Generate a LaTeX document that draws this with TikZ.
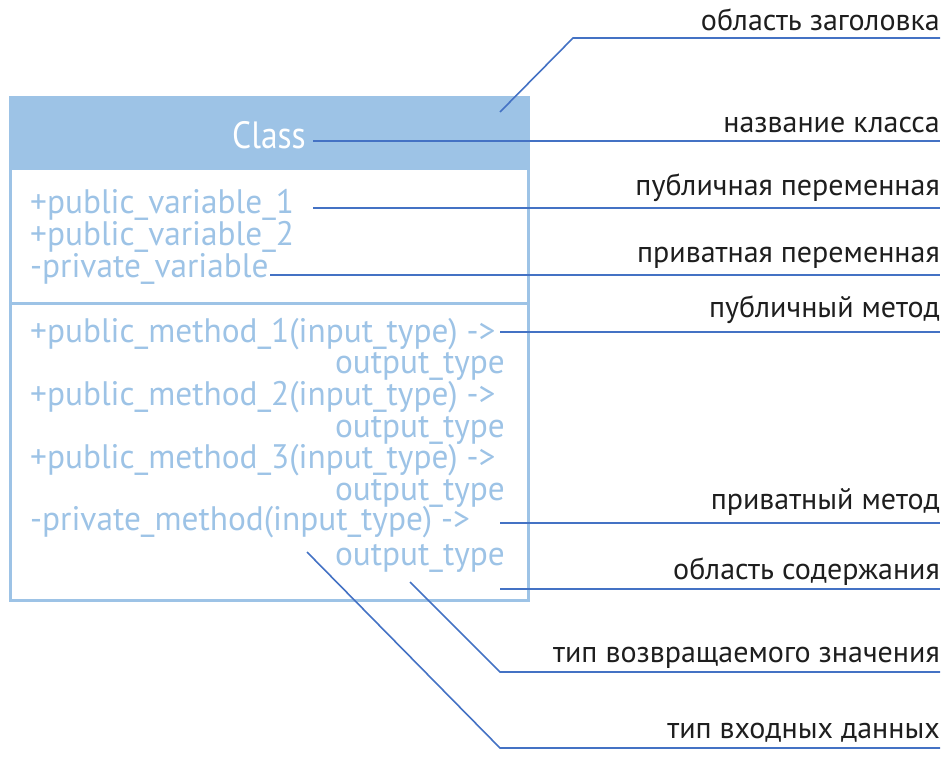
\documentclass[tikz,border=0pt]{standalone}
\usepackage{fontspec}
\setmainfont{PT Sans}
\newfontfamily\hand[FakeStretch=0.98]{PT Sans}
\newfontfamily\handtitle[FakeStretch=0.88]{PT Sans}
\definecolor{boxblue}{RGB}{157,195,230}
\definecolor{lineblue}{RGB}{68,114,196}
\definecolor{labelgray}{RGB}{30,30,30}
\begin{document}
\begin{tikzpicture}[x=1pt,y=-1pt,
  lbl/.style={anchor=base east, inner sep=0pt, font=\fontsize{30}{30}\selectfont, text=labelgray},
  code/.style={anchor=base west, inner sep=0pt, font=\hand\fontsize{34}{34}\selectfont, text=boxblue},
  outt/.style={anchor=base east, inner sep=0pt, font=\hand\fontsize{34}{34}\selectfont, text=boxblue},
  leader/.style={draw=lineblue, line width=1.6pt},
  frame/.style={draw=boxblue, line width=3pt}]
\useasboundingbox (0,0) rectangle (945,763);
% class box
\fill[boxblue] (10,97) rectangle (528,170);
\draw[frame] (10,97) rectangle (528,600);
\draw[frame] (10,303) -- (528,303);
\node[anchor=base, inner sep=0pt, font=\handtitle\fontsize{38}{38}\selectfont, text=white] (cls) at (269,148) {Class};
% attributes
\node[code] (v1) at (30,213) {+public\_variable\_1};
\node[code] (v2) at (30,245) {+public\_variable\_2};
\node[code] (v3) at (30,277) {-private\_variable};
% methods
\node[code] (m1) at (30,342) {+public\_method\_1(input\_type) ->};
\node[outt] (o1) at (505,373) {output\_type};
\node[code] (m2) at (30,405) {+public\_method\_2(input\_type) ->};
\node[outt] (o2) at (505,437) {output\_type};
\node[code] (m3) at (30,468) {+public\_method\_3(input\_type) ->};
\node[outt] (o3) at (505,500) {output\_type};
\node[code] (m4) at (30,530) {-private\_method(input\_type) ->};
\node[outt] (o4) at (505,565) {output\_type};
% labels
\node[lbl] (l1) at (940,30) {область заголовка};
\node[lbl] (l2) at (940,132) {название класса};
\node[lbl] (l3) at (940,195) {публичная переменная};
\node[lbl] (l4) at (940,262) {приватная переменная};
\node[lbl] (l5) at (940,317) {публичный метод};
\node[lbl] (l6) at (940,509) {приватный метод};
\node[lbl] (l7) at (940,579) {область содержания};
\node[lbl] (l8) at (940,662) {тип возвращаемого значения};
\node[lbl] (l9) at (940,738) {тип входных данных};
% leader coordinates
\coordinate (s1) at (500,112); \coordinate (k1) at (573,38); \coordinate (e1) at (940,38);
\coordinate (s2) at (313,141); \coordinate (e2) at (940,141);
\coordinate (s3) at (313,208); \coordinate (e3) at (940,208);
\coordinate (s4) at (270,275); \coordinate (e4) at (940,275);
\coordinate (s5) at (500,332); \coordinate (e5) at (940,332);
\coordinate (s6) at (500,523); \coordinate (e6) at (940,523);
\coordinate (s7) at (500,589); \coordinate (e7) at (940,589);
\coordinate (s8) at (410,582); \coordinate (k8) at (500,672); \coordinate (e8) at (940,672);
\coordinate (s9) at (307,552); \coordinate (k9) at (500,748); \coordinate (e9) at (940,748);
% leaders
\draw[leader] (s1) -- (k1) -- (e1);
\draw[leader] (s2) -- (e2);
\draw[leader] (s3) -- (e3);
\draw[leader] (s4) -- (e4);
\draw[leader] (s5) -- (e5);
\draw[leader] (s6) -- (e6);
\draw[leader] (s7) -- (e7);
\draw[leader] (s8) -- (k8) -- (e8);
\draw[leader] (s9) -- (k9) -- (e9);
\end{tikzpicture}
\end{document}
